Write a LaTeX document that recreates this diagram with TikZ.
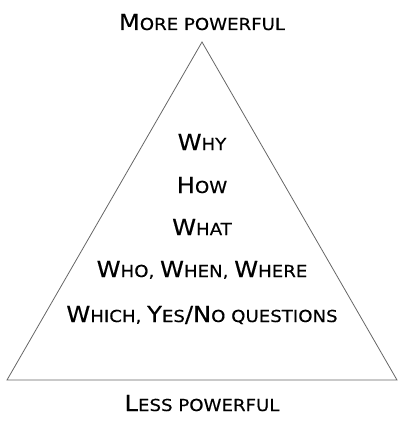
\documentclass[tikz,border=0pt]{standalone}
\usepackage{fontspec}
\newfontfamily\hand[FakeStretch=1.1,FakeBold=0.4]{DejaVu Sans}
\newcommand\bigc[1]{{\fontsize{22}{24}\selectfont #1}}
\tikzset{
  lbl/.style={font=\hand\fontsize{16.5}{18}\selectfont, inner sep=0pt, anchor=base, text=black},
  tri/.style={draw=black!60, line width=0.8pt, line join=miter}
}
\begin{document}
\begin{tikzpicture}[x=1pt,y=-1pt]
\useasboundingbox (0,0) rectangle (408,422);
\coordinate (apex) at (202,42);
\coordinate (br) at (397,380);
\coordinate (bl) at (7,380);
\draw[tri] (apex) -- (br) -- (bl) -- cycle;
\node[lbl] (more) at (202,30) {\bigc{M}ORE POWERFUL};
\node[lbl] (less) at (202,411) {\bigc{L}ESS POWERFUL};
\node[lbl] (why) at (202,150) {\bigc{W}HY};
\node[lbl] (how) at (202,193) {\bigc{H}OW};
\node[lbl] (what) at (202,235) {\bigc{W}HAT};
\node[lbl] (who) at (202,277) {\bigc{W}HO, \bigc{W}HEN, \bigc{W}HERE};
\node[lbl] (which) at (202,322) {\bigc{W}HICH, \bigc{Y}ES\bigc{/}\bigc{N}O QUESTIONS};
\end{tikzpicture}
\end{document}
